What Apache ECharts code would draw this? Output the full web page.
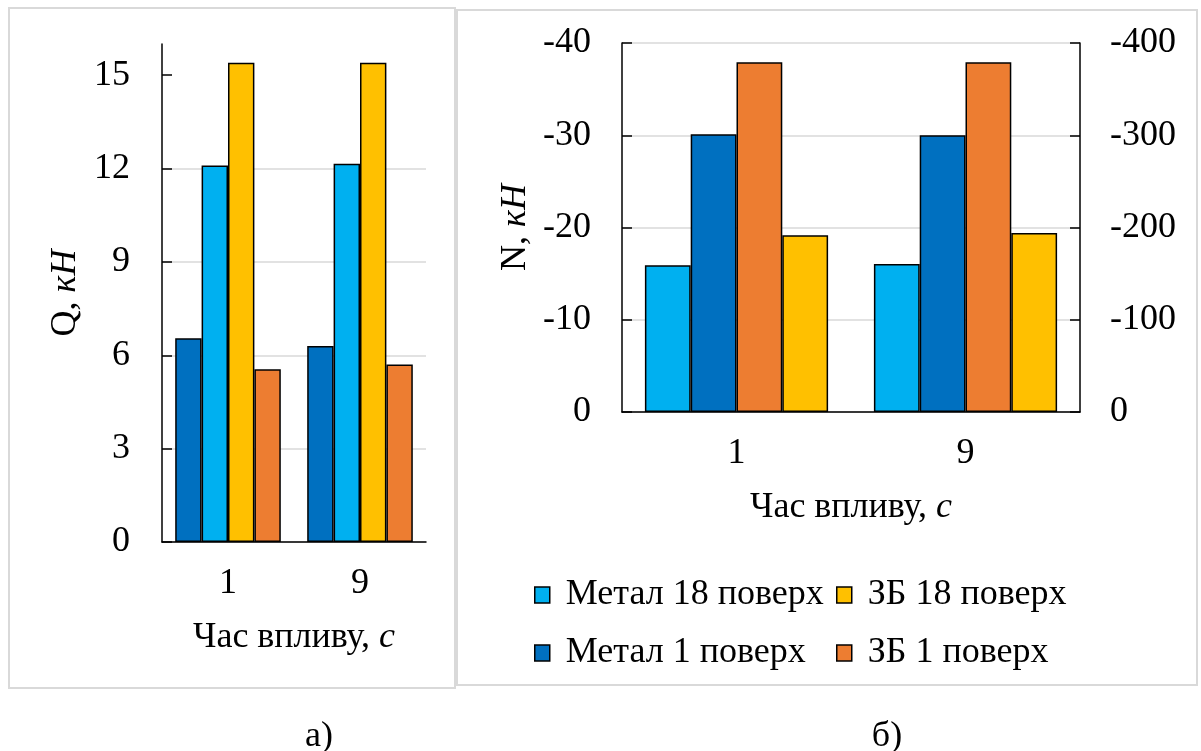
<!DOCTYPE html>
<html>
<head>
<meta charset="utf-8">
<script src="https://cdn.jsdelivr.net/npm/echarts@6/dist/echarts.min.js"></script>
<style>
html,body{margin:0;padding:0;background:#fff;}
#chart{width:1201px;height:751px;}
</style>
</head>
<body>
<div id="chart"></div>
<script>
// ---- data ----
const categories = ['1', '9'];
const seriesNames = ['Метал 18 поверх', 'Метал 1 поверх', 'ЗБ 1 поверх', 'ЗБ 18 поверх'];

// panel a) shear Q, kN
const qMetal1 = [6.55, 6.3];
const qMetal18 = [12.1, 12.15];
const qZB18 = [15.4, 15.4];
const qZB1 = [5.55, 5.7];
const qTicks = [0, 3, 6, 9, 12, 15];

// panel б) axial N, kN
const nMetal18 = [-15.9, -16.05];
const nMetal1 = [-30.1, -30.0];
const nZB1 = [-37.9, -37.9];
const nZB18 = [-19.15, -19.4];

const FONT = 'Liberation Serif';
const C_METAL18 = '#00B0F0', C_METAL1 = '#0070C0', C_ZB1 = '#ED7D31', C_ZB18 = '#FFC000';

const chart = echarts.init(document.getElementById('chart'), null, {renderer: 'canvas'});

const axisLineStyle = {color: '#000', width: 1.5};
const labelStyle = {fontSize: 36, fontFamily: FONT, color: '#000'};
const nameRich = {
  n: {fontSize: 36, fontFamily: FONT, color: '#000'},
  i: {fontSize: 36, fontFamily: FONT, color: '#000', fontStyle: 'italic'}
};

function bar(name, data, color, xi, yi) {
  return {
    type: 'bar', name: name, data: data,
    xAxisIndex: xi, yAxisIndex: yi,
    barGap: '0%', barCategoryGap: '20%',
    itemStyle: {color: color, borderColor: '#000', borderWidth: 1.5},
    emphasis: {disabled: true},
    animation: false
  };
}

function catAxis(gi) {
  return {
    type: 'category', gridIndex: gi, data: categories,
    axisLine: {lineStyle: axisLineStyle},
    axisTick: {inside: true, length: 10, lineStyle: axisLineStyle},
    axisLabel: Object.assign({margin: 24}, labelStyle),
    name: '{n|Час впливу, }{i|с}', nameLocation: 'middle', nameGap: 78,
    nameTextStyle: {rich: nameRich}
  };
}

const legendCommon = {
  orient: 'vertical', top: 572,
  itemWidth: 15, itemHeight: 16, itemGap: 22, selectedMode: false, icon: 'rect',
  itemStyle: {borderColor: '#000', borderWidth: 1.5},
  textStyle: {fontSize: 36, fontFamily: FONT, color: '#000', lineHeight: 36, padding: [0, 0, 0, 11]}
};

const option = {
  backgroundColor: '#fff',
  animation: false,
  textStyle: {fontFamily: FONT},
  graphic: [
    {type: 'rect', shape: {x: 9, y: 8, width: 446, height: 680}, style: {fill: 'none', stroke: '#d9d9d9', lineWidth: 2}, z: -10},
    {type: 'rect', shape: {x: 457, y: 10, width: 740, height: 675}, style: {fill: 'none', stroke: '#d9d9d9', lineWidth: 2}, z: -10},
    {type: 'text', x: 319, y: 737, style: {text: 'а)', fontSize: 36, fontFamily: FONT, fill: '#000', align: 'center', verticalAlign: 'middle'}},
    {type: 'text', x: 887, y: 737, style: {text: 'б)', fontSize: 36, fontFamily: FONT, fill: '#000', align: 'center', verticalAlign: 'middle'}}
  ],
  legend: [
    Object.assign({data: [seriesNames[0], seriesNames[1]], left: 529}, legendCommon),
    Object.assign({data: [seriesNames[3], seriesNames[2]], left: 831}, legendCommon)
  ],
  grid: [
    {left: 162, top: 44, width: 264, height: 498, containLabel: false},
    {left: 622, top: 43, width: 458, height: 369, containLabel: false}
  ],
  xAxis: [catAxis(0), catAxis(1)],
  yAxis: [
    {
      type: 'value', gridIndex: 0, min: 0, max: 16, interval: 3,
      axisLine: {show: true, lineStyle: axisLineStyle},
      axisTick: {show: true, inside: true, length: 10, lineStyle: axisLineStyle, customValues: qTicks},
      axisLabel: Object.assign({margin: 32, customValues: qTicks}, labelStyle),
      splitLine: {show: true, showMaxLine: false, lineStyle: {color: '#d9d9d9', width: 1.5}},
      name: '{n|Q, }{i|кН}', nameLocation: 'middle', nameGap: 78, nameRotate: 90,
      nameTextStyle: {rich: nameRich}
    },
    {
      type: 'value', gridIndex: 1, min: -40, max: 0, interval: 10, inverse: true,
      axisLine: {show: true, lineStyle: axisLineStyle},
      axisTick: {show: true, inside: true, length: 10, lineStyle: axisLineStyle},
      axisLabel: Object.assign({margin: 31}, labelStyle),
      splitLine: {show: true, lineStyle: {color: '#d9d9d9', width: 1.5}},
      name: '{n|N, }{i|кН}', nameLocation: 'middle', nameGap: 88, nameRotate: 90,
      nameTextStyle: {rich: nameRich}
    },
    {
      type: 'value', gridIndex: 1, position: 'right', min: -400, max: 0, interval: 100, inverse: true,
      axisLine: {show: true, onZero: false, lineStyle: axisLineStyle},
      axisTick: {show: true, inside: true, length: 10, lineStyle: axisLineStyle},
      axisLabel: Object.assign({margin: 30}, labelStyle),
      splitLine: {show: false}
    }
  ],
  series: [
    bar(seriesNames[1], qMetal1, C_METAL1, 0, 0),
    bar(seriesNames[0], qMetal18, C_METAL18, 0, 0),
    bar(seriesNames[3], qZB18, C_ZB18, 0, 0),
    bar(seriesNames[2], qZB1, C_ZB1, 0, 0),
    bar(seriesNames[0], nMetal18, C_METAL18, 1, 1),
    bar(seriesNames[1], nMetal1, C_METAL1, 1, 1),
    bar(seriesNames[2], nZB1, C_ZB1, 1, 1),
    bar(seriesNames[3], nZB18, C_ZB18, 1, 1)
  ]
};
chart.setOption(option);
</script>
</body>
</html>
